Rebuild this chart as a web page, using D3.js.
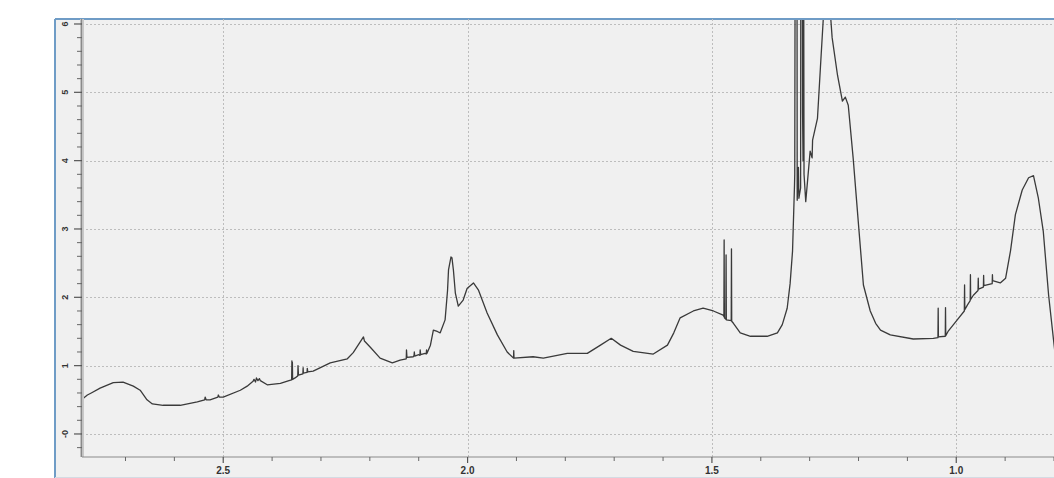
<!DOCTYPE html>
<html>
<head>
<meta charset="utf-8">
<script src="https://cdn.jsdelivr.net/npm/d3@7"></script>
<style>
  html, body { margin: 0; padding: 0; background: #fff; }
  svg { display: block; font-family: "Liberation Sans", Arial, sans-serif; }
</style>
</head>
<body>
<svg id="chart" width="1054" height="478"></svg>
<script>
// chemical shift (ppm) and intensity
const shift = [
  2.789, 2.785, 2.778, 2.770, 2.752, 2.725, 2.705, 2.684, 2.670, 2.656, 2.645, 2.623, 2.588, 2.553,
  2.538, 2.537, 2.535, 2.527, 2.511, 2.510, 2.508, 2.500, 2.465, 2.451, 2.439, 2.437, 2.434, 2.432,
  2.429, 2.426, 2.424, 2.410, 2.383, 2.3655, 2.360, 2.3595, 2.359, 2.3585, 2.358, 2.353, 2.3475, 2.347,
  2.346, 2.337, 2.3365, 2.336, 2.3285, 2.328, 2.327, 2.316, 2.281, 2.246, 2.234, 2.213, 2.211, 2.199,
  2.179, 2.154, 2.138, 2.1255, 2.125, 2.124, 2.111, 2.1095, 2.109, 2.108, 2.100, 2.0975, 2.097, 2.096,
  2.087, 2.0845, 2.084, 2.083, 2.076, 2.070, 2.062, 2.056, 2.046, 2.041, 2.039, 2.034, 2.032, 2.029,
  2.025, 2.019, 2.009, 2.001, 1.988, 1.978, 1.960, 1.939, 1.919, 1.906, 1.9055, 1.905, 1.866, 1.845,
  1.796, 1.755, 1.728, 1.706, 1.687, 1.661, 1.620, 1.591, 1.578, 1.565, 1.538, 1.518, 1.497, 1.477,
  1.4755, 1.475, 1.4745, 1.4715, 1.471, 1.4705, 1.4605, 1.460, 1.4595, 1.456, 1.442, 1.421, 1.387, 1.366,
  1.356, 1.346, 1.340, 1.335, 1.331, 1.3305, 1.3295, 1.326, 1.3255, 1.323, 1.322, 1.3185, 1.318, 1.315,
  1.3145, 1.3135, 1.3125, 1.3115, 1.308, 1.299, 1.295, 1.294, 1.284, 1.278, 1.272, 1.266, 1.258, 1.254,
  1.243, 1.233, 1.227, 1.221, 1.211, 1.200, 1.190, 1.176, 1.165, 1.155, 1.135, 1.088, 1.047, 1.0375,
  1.037, 1.0365, 1.0225, 1.022, 1.0215, 1.016, 0.998, 0.9835, 0.983, 0.9825, 0.977, 0.9715, 0.971, 0.9705,
  0.965, 0.9555, 0.955, 0.9545, 0.9445, 0.944, 0.9435, 0.9265, 0.926, 0.9255, 0.924, 0.910, 0.899, 0.889,
  0.879, 0.865, 0.852, 0.842, 0.832, 0.822, 0.811, 0.801, 0.795
];
const intensity = [
  0.50, 0.53, 0.57, 0.60, 0.67, 0.75, 0.76, 0.70, 0.64, 0.50, 0.44, 0.42, 0.42, 0.47,
  0.50, 0.54, 0.50, 0.50, 0.54, 0.57, 0.54, 0.54, 0.64, 0.70, 0.77, 0.80, 0.76, 0.82,
  0.78, 0.81, 0.78, 0.72, 0.74, 0.78, 0.79, 1.07, 0.80, 1.05, 0.80, 0.82, 0.85, 1.00,
  0.86, 0.88, 0.97, 0.89, 0.90, 0.96, 0.91, 0.92, 1.04, 1.10, 1.19, 1.42, 1.36, 1.27,
  1.11, 1.04, 1.08, 1.10, 1.23, 1.12, 1.13, 1.15, 1.20, 1.14, 1.16, 1.15, 1.23, 1.16,
  1.18, 1.17, 1.23, 1.18, 1.30, 1.52, 1.50, 1.48, 1.67, 2.10, 2.40, 2.59, 2.58, 2.40,
  2.06, 1.87, 1.96, 2.13, 2.21, 2.11, 1.77, 1.45, 1.20, 1.11, 1.22, 1.11, 1.13, 1.11,
  1.18, 1.18, 1.30, 1.40, 1.30, 1.21, 1.17, 1.30, 1.48, 1.70, 1.80, 1.84, 1.80, 1.74,
  1.72, 2.84, 1.70, 1.68, 2.62, 1.67, 1.66, 2.71, 1.65, 1.62, 1.48, 1.43, 1.43, 1.48,
  1.60, 1.84, 2.20, 2.68, 3.64, 3.80, 8.00, 8.00, 3.42, 3.90, 3.45, 3.60, 8.00, 8.00,
  4.70, 4.00, 8.00, 3.80, 3.40, 4.14, 4.04, 4.30, 4.62, 5.36, 6.09, 6.35, 6.20, 5.80,
  5.25, 4.87, 4.93, 4.81, 4.04, 3.06, 2.18, 1.80, 1.62, 1.52, 1.45, 1.39, 1.40, 1.41,
  1.84, 1.42, 1.43, 1.85, 1.44, 1.51, 1.67, 1.80, 2.18, 1.82, 1.89, 1.95, 2.33, 1.97,
  2.03, 2.10, 2.28, 2.12, 2.15, 2.32, 2.17, 2.20, 2.33, 2.24, 2.24, 2.21, 2.28, 2.68,
  3.21, 3.57, 3.75, 3.78, 3.45, 2.97, 2.03, 1.38, 1.00
];
const xTicks = [2.5, 2.0, 1.5, 1.0];
const yTicks = [0, 1, 2, 3, 4, 5, 6];
const yLabels = ["-0", "1", "2", "3", "4", "5", "6"];

const svg = d3.select("#chart");
const plotLeft = 82, plotRight = 1054, plotTop = 19, plotBottom = 457;

const x = d3.scaleLinear().domain([2.789, 0.80]).range([plotLeft, plotRight]);
const y = d3.scaleLinear().domain([-0.337, 6.073]).range([plotBottom, plotTop]);

// panel background and frame
svg.append("rect").attr("x", 55).attr("y", 19).attr("width", 1000).attr("height", 458).attr("fill", "#f0f0f0");
svg.append("line").attr("x1", 55).attr("x2", 55).attr("y1", 19).attr("y2", 478).attr("stroke", "#6f9cc6").attr("stroke-width", 2);
svg.append("line").attr("x1", 55).attr("x2", 1054).attr("y1", 19).attr("y2", 19).attr("stroke", "#6f9cc6").attr("stroke-width", 2);
svg.append("line").attr("x1", 55).attr("x2", 1054).attr("y1", 477.5).attr("y2", 477.5).attr("stroke", "#d4dbe3").attr("stroke-width", 1);

// grid
svg.append("g").selectAll("line").data(yTicks).join("line")
  .attr("x1", plotLeft).attr("x2", plotRight)
  .attr("y1", d => Math.round(y(d)) + 0.5).attr("y2", d => Math.round(y(d)) + 0.5)
  .attr("stroke", "#bdbdbd").attr("stroke-dasharray", "2,2");
svg.append("g").selectAll("line").data(xTicks).join("line")
  .attr("x1", d => Math.round(x(d)) + 0.5).attr("x2", d => Math.round(x(d)) + 0.5)
  .attr("y1", plotTop).attr("y2", plotBottom)
  .attr("stroke", "#bdbdbd").attr("stroke-dasharray", "2,2");

// spectrum trace
svg.append("clipPath").attr("id", "plot-clip")
  .append("rect").attr("x", plotLeft).attr("y", plotTop + 1).attr("width", plotRight - plotLeft).attr("height", plotBottom - plotTop - 1);

const line = d3.line()
  .x((d, i) => x(shift[i]))
  .y((d, i) => y(intensity[i]));

svg.append("path")
  .attr("clip-path", "url(#plot-clip)")
  .attr("d", line(shift))
  .attr("fill", "none")
  .attr("stroke", "#3a3a3a")
  .attr("stroke-width", 1.3)
  .attr("stroke-linejoin", "round");

// y axis
const yAxis = svg.append("g");
yAxis.append("line").attr("x1", plotLeft).attr("x2", plotLeft).attr("y1", plotTop).attr("y2", plotBottom)
  .attr("stroke", "#c8c8c8").attr("stroke-width", 4);
yAxis.append("line").attr("x1", plotLeft - 0.5).attr("x2", plotLeft - 0.5).attr("y1", plotTop).attr("y2", plotBottom)
  .attr("stroke", "#8a8a8a").attr("stroke-width", 1.2);
const yMinor = d3.range(-0.2, 6.05, 0.2).filter(v => Math.abs(v - Math.round(v)) > 0.01);
yAxis.selectAll(".ymin").data(yMinor).join("line").attr("class", "ymin")
  .attr("x1", plotLeft - 5).attr("x2", plotLeft).attr("y1", d => y(d)).attr("y2", d => y(d))
  .attr("stroke", "#666").attr("stroke-width", 1);
yAxis.selectAll(".ymaj").data(yTicks).join("line").attr("class", "ymaj")
  .attr("x1", plotLeft - 8).attr("x2", plotLeft).attr("y1", d => y(d)).attr("y2", d => y(d))
  .attr("stroke", "#555").attr("stroke-width", 1.2);
yAxis.selectAll("text").data(yTicks).join("text")
  .attr("transform", d => `translate(66,${y(d)}) rotate(-90)`)
  .attr("text-anchor", "middle").attr("dominant-baseline", "middle")
  .attr("font-size", 9).attr("font-weight", "bold").attr("fill", "#333")
  .text((d, i) => yLabels[i]);

// x axis
const xAxis = svg.append("g");
xAxis.append("line").attr("x1", plotLeft).attr("x2", plotRight).attr("y1", plotBottom).attr("y2", plotBottom)
  .attr("stroke", "#8a8a8a").attr("stroke-width", 1.2);
const xMinor = d3.range(0.8, 2.79, 0.1).filter(v => Math.abs(v * 2 - Math.round(v * 2)) > 0.01);
xAxis.selectAll(".xmin").data(xMinor).join("line").attr("class", "xmin")
  .attr("x1", d => x(d)).attr("x2", d => x(d)).attr("y1", plotBottom).attr("y2", plotBottom + 4)
  .attr("stroke", "#666").attr("stroke-width", 1);
xAxis.selectAll(".xmaj").data(xTicks).join("line").attr("class", "xmaj")
  .attr("x1", d => x(d)).attr("x2", d => x(d)).attr("y1", plotBottom).attr("y2", plotBottom + 6)
  .attr("stroke", "#555").attr("stroke-width", 1.2);
xAxis.selectAll("text").data(xTicks).join("text")
  .attr("x", d => x(d)).attr("y", 474)
  .attr("text-anchor", "middle")
  .attr("font-size", 10).attr("font-weight", "bold").attr("fill", "#333")
  .text(d => d.toFixed(1));
</script>
</body>
</html>
